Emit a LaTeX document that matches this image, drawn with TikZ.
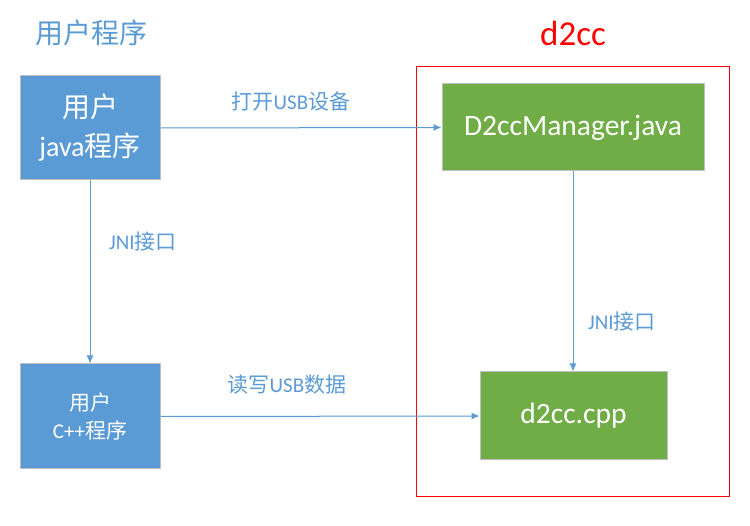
\documentclass[tikz,border=0pt]{standalone}
\usepackage{fontspec}
\setmainfont{Carlito}
\newfontfamily\cjk{Noto Sans CJK SC}
\usetikzlibrary{arrows.meta}
\definecolor{appblue}{HTML}{5B9BD5}
\definecolor{libgreen}{HTML}{70AD47}
\definecolor{edgegray}{HTML}{BFBFBF}

\tikzset{block/.style={draw=edgegray,line width=1pt,text=white,align=center,inner sep=0pt},
         flow/.style={draw=appblue,line width=1pt,-{Latex[length=8pt,width=7pt]}},
         flowlabel/.style={text=appblue,font=\fontsize{21}{25}\selectfont,inner sep=0pt}}

\begin{document}
\begin{tikzpicture}[x=1pt,y=-1pt]
        \useasboundingbox (0,0) rectangle (750,526);
        \node[text=appblue,font=\fontsize{28}{32}\selectfont] (usertitle) at (91,33) {\cjk 用户程序};
        \node[text=red,font=\fontsize{35}{40}\selectfont] (libtitle) at (573,33) {d2cc};
        \draw[red,line width=1pt] (416,67) rectangle (729,496);
        \node[block,fill=appblue,minimum width=140pt,minimum height=104pt,font=\fontsize{28}{39}\selectfont] (javaapp) at (90,128) {{\cjk 用户}\\java{\cjk 程序}};
        \node[block,fill=appblue,minimum width=140pt,minimum height=105pt,font=\fontsize{21}{28}\selectfont] (cppapp) at (90,416.5) {{\cjk 用户}\\C++{\cjk 程序}};
        \node[block,fill=libgreen,minimum width=262pt,minimum height=87pt,font=\fontsize{29.5}{32}\selectfont] (manager) at (573,127.5) {D2ccManager.java};
        \node[block,fill=libgreen,minimum width=187pt,minimum height=88pt,font=\fontsize{29.5}{32}\selectfont] (native) at (573.5,416) {d2cc.cpp};
        \draw[flow] (javaapp.east) -- (manager.west);
        \draw[flow] (javaapp.south) -- (cppapp.north);
        \draw[flow] (manager.south) -- (manager.south |- native.north);
        \draw[flow] (cppapp.east) -- (native.west);
        \node[flowlabel] (openlabel) at (291,102) {{\cjk 打开}USB{\cjk 设备}};
        \node[flowlabel] (rwlabel) at (287,385) {{\cjk 读写}USB{\cjk 数据}};
        \node[flowlabel] (jnileft) at (143,242) {JNI{\cjk 接口}};
        \node[flowlabel] (jniright) at (622,322) {JNI{\cjk 接口}};
    \end{tikzpicture}
\end{document}
